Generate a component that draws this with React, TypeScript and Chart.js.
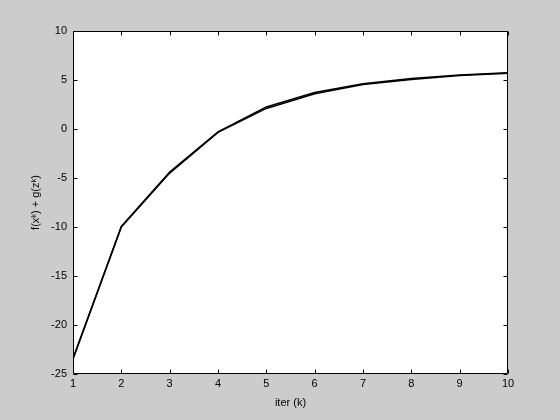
import React, { useEffect, useRef } from "react";
import { Chart, registerables } from "chart.js";

Chart.register(...registerables);

const iterations = [1, 2, 3, 4, 5, 6, 7, 8, 9, 10];
const objectiveA = [-23.5, -10.0, -4.5, -0.35, 2.1, 3.6, 4.55, 5.05, 5.45, 5.7];
const objectiveB = [-23.4, -9.95, -4.4, -0.3, 2.25, 3.72, 4.62, 5.15, 5.5, 5.75];
const yTicks = [-25, -20, -15, -10, -5, 0, 5, 10];
const xTicks = [1, 2, 3, 4, 5, 6, 7, 8, 9, 10];

const FONT = { family: "'Liberation Sans', Arial, sans-serif", size: 11 };

const boxPlugin = {
  id: "matlabBox",
  beforeDatasetsDraw(chart: any) {
    const { ctx, chartArea } = chart;
    ctx.save();
    ctx.fillStyle = "#ffffff";
    ctx.fillRect(chartArea.left, chartArea.top, chartArea.right - chartArea.left, chartArea.bottom - chartArea.top);
    ctx.restore();
  },
  afterDraw(chart: any) {
    const { ctx, chartArea } = chart;
    const { left, right, top, bottom } = chartArea;
    const xs = chart.scales.x;
    const ys = chart.scales.y;
    const tl = 4;
    ctx.save();
    ctx.strokeStyle = "#000";
    ctx.lineWidth = 1;
    ctx.beginPath();
    const L = Math.round(left) + 0.5;
    const R = Math.round(right) - 0.5;
    const T = Math.round(top) + 0.5;
    const B = Math.round(bottom) - 0.5;
    ctx.rect(L, T, R - L, B - T);
    for (const v of xTicks) {
      const px = Math.round(xs.getPixelForValue(v)) + 0.5;
      ctx.moveTo(px, B);
      ctx.lineTo(px, B - tl);
      ctx.moveTo(px, T);
      ctx.lineTo(px, T + tl);
    }
    for (const v of yTicks) {
      const py = Math.round(ys.getPixelForValue(v)) + 0.5;
      ctx.moveTo(L, py);
      ctx.lineTo(L + tl, py);
      ctx.moveTo(R, py);
      ctx.lineTo(R - tl, py);
    }
    ctx.stroke();
    ctx.restore();
  },
};

export default function App() {
  const ref = useRef<HTMLCanvasElement>(null);
  useEffect(() => {
    const canvas = ref.current!;
    const chart = new Chart(canvas, {
      type: "line",
      data: {
        labels: iterations,
        datasets: [
          {
            data: objectiveA,
            borderColor: "#000",
            borderWidth: 1.5,
            pointRadius: 0,
            tension: 0,
          },
          {
            data: objectiveB,
            borderColor: "#000",
            borderWidth: 1.5,
            pointRadius: 0,
            tension: 0,
          },
        ],
      },
      options: {
        responsive: false,
        animation: false,
        layout: { padding: { top: 31, right: 52, left: 0, bottom: 0 } },
        plugins: { legend: { display: false }, tooltip: { enabled: false } },
        scales: {
          x: {
            type: "linear",
            min: 1,
            max: 10,
            afterFit(scale: any) {
              scale.height = 46;
            },
            afterBuildTicks(scale: any) {
              scale.ticks = xTicks.map((v) => ({ value: v }));
            },
            grid: { display: false, drawTicks: false },
            border: { display: false },
            ticks: { color: "#000", font: FONT, padding: 3, maxRotation: 0, autoSkip: false },
            title: {
              display: true,
              text: "iter (k)",
              color: "#000",
              font: FONT,
              padding: { top: 0, bottom: 10 },
            },
          },
          y: {
            type: "linear",
            min: -25,
            max: 10,
            afterFit(scale: any) {
              scale.width = 73;
            },
            afterBuildTicks(scale: any) {
              scale.ticks = yTicks.map((v) => ({ value: v }));
            },
            grid: { display: false, drawTicks: false },
            border: { display: false },
            ticks: { color: "#000", font: FONT, padding: 6, autoSkip: false },
            title: {
              display: true,
              text: "f(xᵏ) + g(zᵏ)",
              color: "#000",
              font: FONT,
              padding: { top: 29, bottom: 0 },
            },
          },
        },
      },
      plugins: [boxPlugin],
    });
    return () => chart.destroy();
  }, []);
  return (
    <div
      style={{
        position: "fixed",
        left: 0,
        top: 0,
        width: 560,
        height: 420,
        background: "#cccccc",
      }}
    >
      <canvas ref={ref} width={560} height={420} style={{ display: "block" }} />
    </div>
  );
}
